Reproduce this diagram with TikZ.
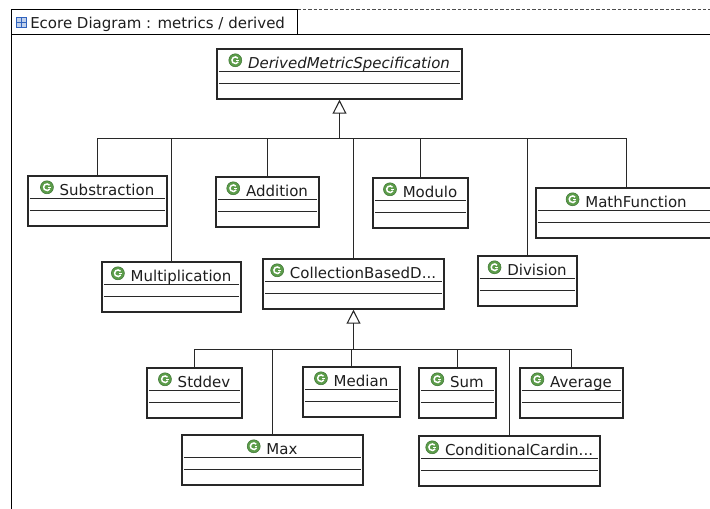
\documentclass[tikz,border=0pt]{standalone}
\usepackage{fontspec}
\setmainfont{DejaVu Sans}
\usetikzlibrary{arrows.meta,calc,fit}
\definecolor{iconGreen}{RGB}{92,156,74}
\definecolor{iconEdge}{RGB}{62,118,52}
\definecolor{lineDark}{RGB}{40,40,40}
\definecolor{textDark}{RGB}{30,30,30}
\definecolor{tabBlue}{RGB}{50,100,190}
\newcommand\classfont{\fontsize{11.25pt}{13pt}\selectfont}
\tikzset{
  cbox/.style={draw=lineDark, line width=1.1pt, inner sep=0pt},
  sepline/.style={draw=lineDark, line width=0.8pt},
  clabel/.style={font=\classfont, text=textDark, inner sep=0pt, anchor=base, text height=8.5pt, text depth=2.2pt},
  cicon/.style={circle, fill=iconGreen, draw=iconEdge, line width=0.4pt, minimum size=9.75pt, inner sep=0pt,
    path picture={
      \draw[white, line width=1.1pt] ($(path picture bounding box.center)+(40:2.5pt)$) arc[start angle=40, end angle=330, radius=2.5pt];
      \draw[white, line width=0.9pt] ($(path picture bounding box.center)+(0.6pt,0pt)$) -- ($(path picture bounding box.center)+(2.8pt,0pt)$);
    }},
  conn/.style={draw=lineDark, line width=0.8pt},
  inherit/.style={conn, -{Triangle[open, length=10.5pt, width=10.5pt, line width=0.8pt]}},
  frameline/.style={draw=black, line width=0.8pt},
}
% #1 extra label style, #2 name, #3 left, #4 top, #5 right, #6 label
\newcommand\umlclass[6][]{%
  \coordinate (#2-nw) at (#3,#4);
  \coordinate (#2-se) at (#5,#4+50);
  \node[cbox, fit=(#2-nw)(#2-se)] (#2) {};
  \draw[sepline] ($(#2.north west)+(2.5,23.5)$) -- ($(#2.north east)+(-2.5,23.5)$);
  \draw[sepline] ($(#2.north west)+(2.5,35.5)$) -- ($(#2.north east)+(-2.5,35.5)$);
  \node[clabel,#1] (#2-lbl) at ($(#2.north)+(9.5,20.5)$) {#6};
  \node[cicon] (#2-icon) at ($(#2-lbl.base west)+(-12.5,-8.5)$) {};
}
\begin{document}
\begin{tikzpicture}[x=0.75pt,y=-0.75pt]
\useasboundingbox (0,0) rectangle (710,508);
\fill[white] (0,0) rectangle (710,508);
% frame and tab
\draw[frameline] (11.5,512) -- (11.5,9.5) -- (297.5,9.5) -- (297.5,34.5);
\draw[frameline] (11.5,34.5) -- (714,34.5);
\draw[draw=black!70, line width=0.7pt, dash pattern=on 2.5pt off 1.5pt] (297.5,9.5) -- (714,9.5);
\node[draw=tabBlue, fill=tabBlue!30, line width=0.6pt, minimum size=7.5pt, inner sep=0pt] (tabicon) at (21.5,22.5) {};
\draw[tabBlue, line width=0.7pt] (tabicon.north) -- (tabicon.south) (tabicon.west) -- (tabicon.east);
\node[font=\classfont, text=textDark, inner sep=0pt, anchor=base west] (title) at (30,28) {Ecore Diagram : metrics / derived};
% classes
\umlclass[{font=\classfont\itshape}]{dms}{217}{49}{462}{DerivedMetricSpecification}
\umlclass{sub}{28}{176}{167}{Substraction}
\umlclass{add}{216}{177}{319}{Addition}
\umlclass{mod}{373}{178}{468}{Modulo}
\umlclass{math}{536}{188}{717}{MathFunction}
\umlclass{mul}{102}{262}{241}{Multiplication}
\umlclass{coll}{263}{259}{444}{CollectionBasedD...}
\umlclass{div}{478}{256}{577}{Division}
\umlclass{std}{147}{368}{242}{Stddev}
\umlclass{med}{303}{367}{400}{Median}
\umlclass{sum}{419}{368}{496}{Sum}
\umlclass{avg}{520}{368}{623}{Average}
\umlclass{max}{182}{435}{363}{Max}
\umlclass{cond}{419}{436}{600}{ConditionalCardin...}
% generalisation to DerivedMetricSpecification
\coordinate (j1) at ($(dms.south)+(0,38.5)$);
\foreach \c in {sub,add,mod,math,mul,coll,div} {\draw[conn] (\c.north) |- (j1);}
\draw[inherit] (j1) -- (dms.south);
% generalisation to CollectionBasedD...
\coordinate (j2) at ($(coll.south)+(0,39.5)$);
\foreach \c in {std,med,sum,avg,max,cond} {\draw[conn] (\c.north) |- (j2);}
\draw[inherit] (j2) -- (coll.south);
\end{tikzpicture}
\end{document}
